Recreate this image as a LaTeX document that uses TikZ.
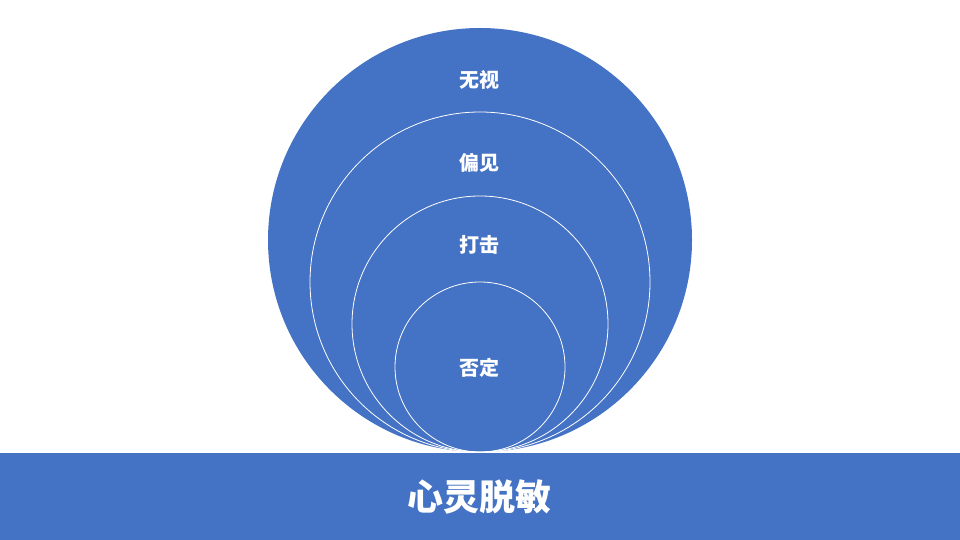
\documentclass[tikz,border=0pt]{standalone}
\usepackage{fontspec}
\newfontfamily\cjk{Noto Sans CJK SC}
\definecolor{ringblue}{HTML}{4472C4}
\tikzset{
  ring/.style={draw=white, line width=0.8pt},
  ringtext/.style={text=white, font=\cjk\bfseries\fontsize{20}{24}\selectfont, inner sep=0pt},
  bartext/.style={text=white, font=\cjk\bfseries\fontsize{36}{42}\selectfont, inner sep=0pt}
}
\begin{document}
\begin{tikzpicture}[x=1pt,y=1pt]
  \useasboundingbox (0,0) rectangle (960,540);
  % outer disc and the rings inside it, all touching at the bottom
  \fill[ringblue] (480,300) circle (212);
  \draw[ring] (480,258) circle (170);
  \draw[ring] (480,216) circle (128);
  \draw[ring] (480,173) circle (85);
  % bar
  \fill[ringblue] (0,0) rectangle (960,87);
  \draw
    (479,460) node[ringtext] (wushi){无视}
    (479,377) node[ringtext] (pianjian){偏见}
    (479,295) node[ringtext] (daji){打击}
    (479,172) node[ringtext] (fouding){否定}
    (479,43) node[bartext] (tuomin){心灵脱敏};
\end{tikzpicture}
\end{document}
